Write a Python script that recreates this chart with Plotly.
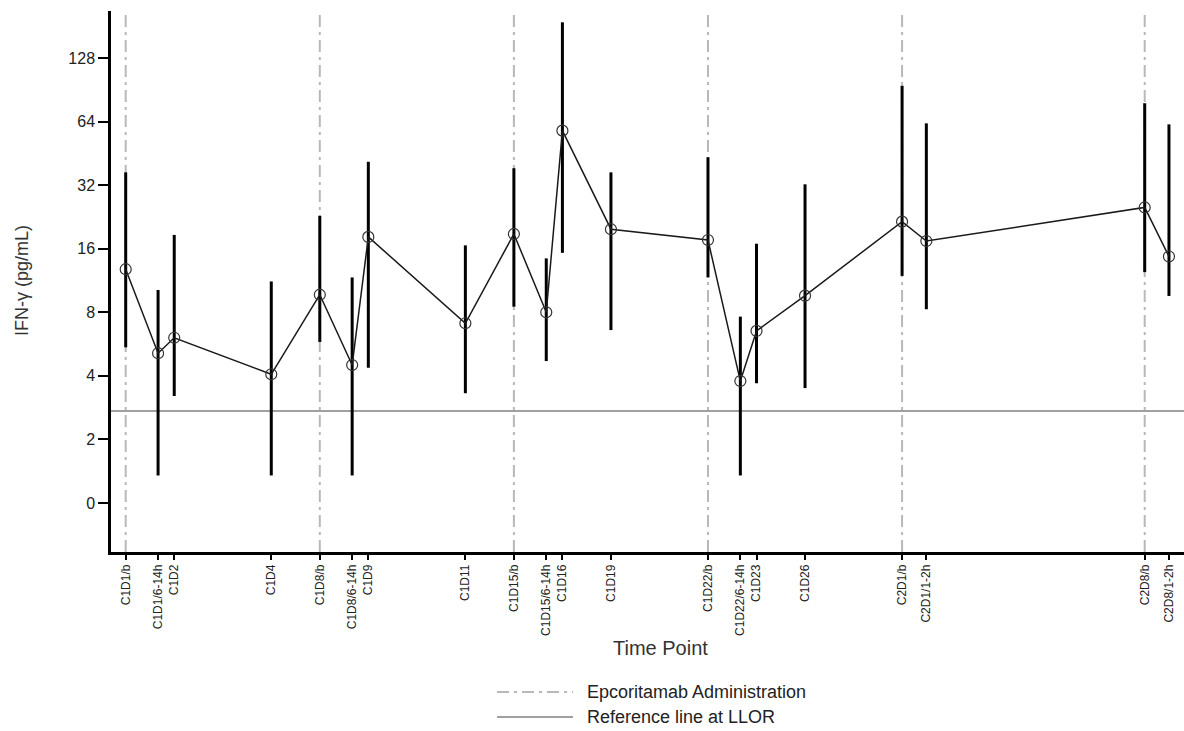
import math
import plotly.graph_objects as go

# Nominal time points and their positions on the study-time axis
time_labels = ["C1D1/b", "C1D1/6-14h", "C1D2", "C1D4", "C1D8/b", "C1D8/6-14h", "C1D9",
               "C1D11", "C1D15/b", "C1D15/6-14h", "C1D16", "C1D19", "C1D22/b",
               "C1D22/6-14h", "C1D23", "C1D26", "C2D1/b", "C2D1/1-2h", "C2D8/b", "C2D8/1-2h"]
time_pos = [0, 0.667, 1, 3, 4, 4.667, 5, 7, 8, 8.667, 9, 10, 12, 12.667, 13, 14, 16, 16.5, 21, 21.5]

# IFN-gamma (pg/mL): central value with lower / upper bounds
ifng_mid = [12.8, 5.12, 6.06, 4.07, 9.69, 4.50, 18.2, 7.10, 18.8, 8.0, 58.0, 19.8, 17.6,
            3.78, 6.53, 9.59, 21.5, 17.4, 25.1, 14.7]
ifng_low = [5.46, 1.35, 3.21, 1.35, 5.79, 1.35, 4.37, 3.31, 8.50, 4.70, 15.3, 6.59, 11.7,
            1.35, 3.69, 3.50, 11.9, 8.27, 12.4, 9.56]
ifng_high = [36.8, 10.2, 18.6, 11.2, 22.9, 11.7, 41.3, 16.6, 38.5, 14.4, 189, 36.8, 43.4,
             7.63, 16.9, 32.3, 94.7, 62.8, 78.2, 62.1]

# Dosing time points and lower limit of reporting
dose_pos = [0, 4, 8, 12, 16, 21]
llor = 2.73

# y axis labels (log2 spaced, bottom tick shown as 0)
ytick_vals = [1, 2, 4, 8, 16, 32, 64, 128]
ytick_text = ["0", "2", "4", "8", "16", "32", "64", "128"]

FONT = "Liberation Sans, Arial, sans-serif"
TXT = "#222222"
GREY = "#b8b8b8"
REF_GREY = "#a0a0a0"
DASHDOT = "12px,5px,3px,5px"

W, H = 1184, 731
ML, MR, MT, MB = 111, 0, 11, 179
PW, PH = W - ML - MR, H - MT - MB


def px_x(px):
    return (px - ML) / PW


def px_y(py):
    return (H - MB - py) / PH


fig = go.Figure()

fig.add_trace(go.Scatter(
    x=time_pos, y=ifng_mid,
    mode="lines+markers",
    line=dict(color="#1a1a1a", width=1.5),
    marker=dict(symbol="circle-open", size=11, color="#333333", line=dict(width=1.2)),
    error_y=dict(
        type="data", symmetric=False,
        array=[h - m for h, m in zip(ifng_high, ifng_mid)],
        arrayminus=[m - l for m, l in zip(ifng_mid, ifng_low)],
        color="black", thickness=3, width=0,
    ),
    showlegend=False,
    hoverinfo="skip",
))

shapes = []
# Administration days: dash-dot verticals spanning the plot
for xp in dose_pos:
    shapes.append(dict(type="line", xref="x", yref="paper", x0=xp, x1=xp, y0=0, y1=1,
                       line=dict(color=GREY, width=2, dash=DASHDOT), layer="below"))
# LLOR reference line
shapes.append(dict(type="line", xref="paper", yref="y", x0=0, x1=1, y0=llor, y1=llor,
                   line=dict(color=REF_GREY, width=2), layer="below"))

# Legend keys below the axis
legend_items = [("Epcoritamab Administration", dict(color=GREY, width=2, dash=DASHDOT), 692),
                ("Reference line at LLOR", dict(color=REF_GREY, width=2), 717)]
annotations = []
for label, ln, py in legend_items:
    shapes.append(dict(type="line", xref="paper", yref="paper",
                       x0=px_x(497), x1=px_x(573), y0=px_y(py), y1=px_y(py), line=ln))
    annotations.append(dict(text=label, xref="paper", yref="paper", x=px_x(585), y=px_y(py),
                            xanchor="left", yanchor="middle", showarrow=False,
                            font=dict(family=FONT, size=18, color=TXT)))

# Axis titles
annotations.append(dict(text="Time Point", xref="paper", yref="paper", x=px_x(660), y=px_y(648),
                        xanchor="center", yanchor="middle", showarrow=False,
                        font=dict(family=FONT, size=20, color="#333333")))
annotations.append(dict(text="IFN-γ (pg/mL)", xref="paper", yref="paper", x=px_x(22), y=px_y(281),
                        xanchor="center", yanchor="middle", showarrow=False, textangle=-90,
                        font=dict(family=FONT, size=18, color="#333333")))

fig.update_layout(
    width=W, height=H,
    margin=dict(l=ML, r=MR, t=MT, b=MB, autoexpand=False),
    paper_bgcolor="white", plot_bgcolor="white",
    font=dict(family=FONT, color=TXT),
    shapes=shapes, annotations=annotations,
    showlegend=False,
    xaxis=dict(
        range=[-0.303, 21.81],
        tickmode="array", tickvals=time_pos, ticktext=time_labels,
        tickangle=-90, tickfont=dict(family=FONT, size=12, color=TXT),
        ticks="outside", ticklen=5, tickwidth=2, tickcolor="black",
        showline=True, linecolor="black", linewidth=2.5,
        showgrid=False, zeroline=False, automargin=False,
    ),
    yaxis=dict(
        type="log",
        range=[math.log10(2) * -0.771, math.log10(2) * 7.740],
        tickmode="array", tickvals=ytick_vals, ticktext=ytick_text,
        tickfont=dict(family=FONT, size=16, color=TXT),
        ticks="outside", ticklen=10, tickwidth=2, tickcolor="black",
        showline=True, linecolor="black", linewidth=2.5,
        showgrid=False, zeroline=False, automargin=False,
    ),
)

fig.write_html("out.html")
